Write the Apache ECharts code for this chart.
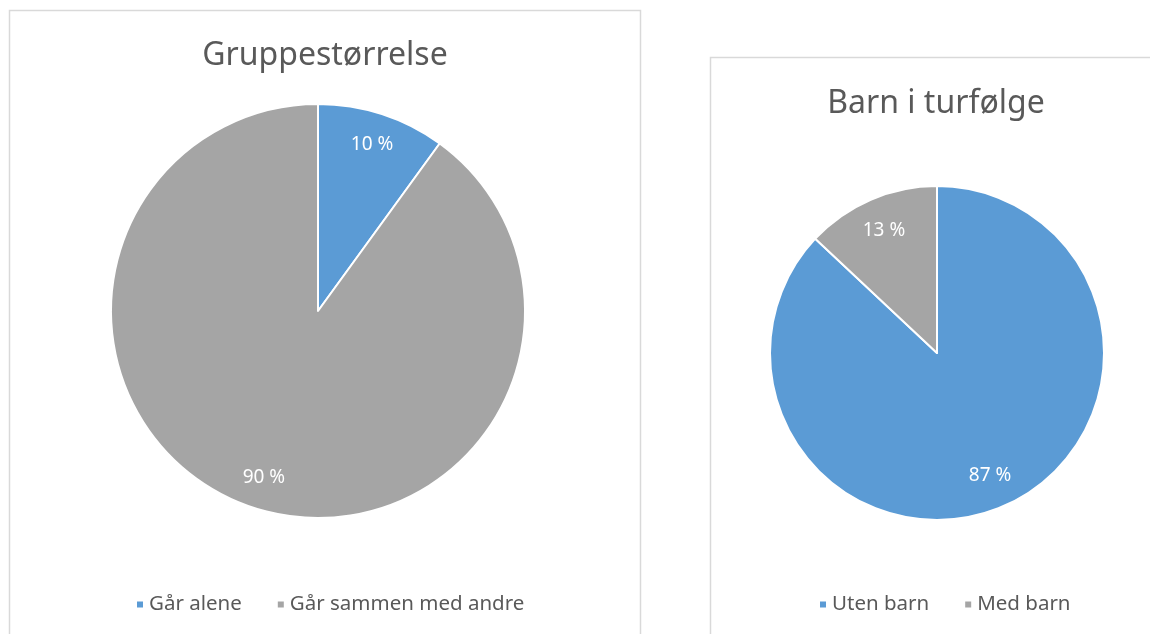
<!DOCTYPE html>
<html lang="no">
<head>
<meta charset="UTF-8">
<title>Gruppestørrelse / Barn i turfølge</title>
<script src="https://cdn.jsdelivr.net/npm/echarts@6/dist/echarts.min.js"></script>
<style>
  html, body { margin: 0; padding: 0; background: #fff; }
  #main { width: 1150px; height: 634px; }
</style>
</head>
<body>
<div id="main"></div>
<script>
// data
var gruppeNavn = ['Går alene', 'Går sammen med andre'];
var gruppeVerdi = [10, 90];
var barnNavn = ['Uten barn', 'Med barn'];
var barnVerdi = [87, 13];
var gruppeFarger = ['#5B9BD5', '#A5A5A5'];
var barnFarger = ['#5B9BD5', '#A5A5A5'];

var fontFam = '"Noto Sans", "Open Sans", sans-serif';
var txtColor = '#595959';

function lagData(navn, verdi, farger) {
    var arr = [];
    for (var i = 0; i < navn.length; i++) {
        arr.push({ name: navn[i], value: verdi[i], itemStyle: { color: farger[i] } });
    }
    return arr;
}
function lagLegend(navn, farger) {
    var arr = [];
    for (var i = 0; i < navn.length; i++) {
        arr.push({ name: navn[i], itemStyle: { color: farger[i] } });
    }
    return arr;
}

var myChart = echarts.init(document.getElementById('main'));
var option = {
    animation: false,
    title: [
        { text: 'Gruppestørrelse', left: 320, top: 35, textAlign: 'center',
          textStyle: { fontFamily: fontFam, fontSize: 32, fontWeight: 'normal', color: txtColor } },
        { text: 'Barn i turfølge', left: 931, top: 83, textAlign: 'center',
          textStyle: { fontFamily: fontFam, fontSize: 32, fontWeight: 'normal', color: txtColor } }
    ],
    legend: [
        { data: lagLegend(gruppeNavn, gruppeFarger), left: 130, top: 589, icon: 'rect',
          itemWidth: 8, itemHeight: 8, itemGap: 34,
          textStyle: { fontFamily: fontFam, fontSize: 20.5, color: txtColor } },
        { data: lagLegend(barnNavn, barnFarger), left: 813, top: 589, icon: 'rect',
          itemWidth: 8, itemHeight: 8, itemGap: 34,
          textStyle: { fontFamily: fontFam, fontSize: 20.5, color: txtColor } }
    ],
    graphic: [
        { type: 'rect', shape: { x: 9.5, y: 10.5, width: 631, height: 700 },
          style: { fill: 'none', stroke: '#d9d9d9', lineWidth: 1.5 }, silent: true },
        { type: 'rect', shape: { x: 710.5, y: 57.5, width: 500, height: 700 },
          style: { fill: 'none', stroke: '#d9d9d9', lineWidth: 1.5 }, silent: true }
    ],
    series: [
        {
            name: 'Gruppestørrelse', type: 'pie', center: [318, 311], radius: 207,
            startAngle: 90, clockwise: true,
            itemStyle: { borderColor: '#fff', borderWidth: 2 },
            label: { show: false }, labelLine: { show: false }, emphasis: { disabled: true },
            data: lagData(gruppeNavn, gruppeVerdi, gruppeFarger)
        },
        {
            // bare etiketter, plassert ca 0.8 av radius
            name: 'GruppeEtikett', type: 'pie', center: [318, 311], radius: [137, 207],
            startAngle: 90, clockwise: true, silent: true, legendHoverLink: false,
            itemStyle: { color: 'rgba(0,0,0,0)' },
            label: { show: true, position: 'inside', formatter: '{c} %',
                     fontFamily: fontFam, fontSize: 19, color: '#fff' },
            labelLine: { show: false }, emphasis: { disabled: true },
            data: lagData(gruppeNavn, gruppeVerdi, ['rgba(0,0,0,0)', 'rgba(0,0,0,0)'])
        },
        {
            name: 'Barn i turfølge', type: 'pie', center: [937, 353], radius: 167,
            startAngle: 90, clockwise: true,
            itemStyle: { borderColor: '#fff', borderWidth: 2 },
            label: { show: false }, labelLine: { show: false }, emphasis: { disabled: true },
            data: lagData(barnNavn, barnVerdi, barnFarger)
        },
        {
            name: 'BarnEtikett', type: 'pie', center: [937, 353], radius: [94, 167],
            startAngle: 90, clockwise: true, silent: true, legendHoverLink: false,
            itemStyle: { color: 'rgba(0,0,0,0)' },
            label: { show: true, position: 'inside', formatter: '{c} %',
                     fontFamily: fontFam, fontSize: 19, color: '#fff' },
            labelLine: { show: false }, emphasis: { disabled: true },
            data: lagData(barnNavn, barnVerdi, ['rgba(0,0,0,0)', 'rgba(0,0,0,0)'])
        }
    ]
};
myChart.setOption(option);
</script>
</body>
</html>
